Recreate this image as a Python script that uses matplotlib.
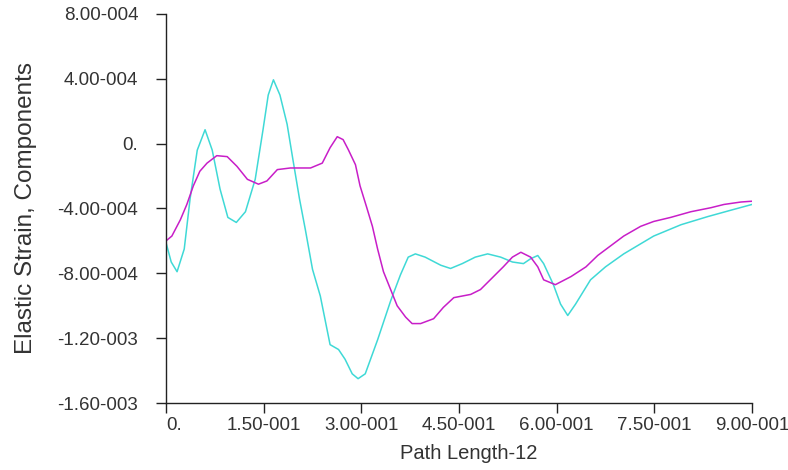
import numpy as np
import matplotlib
matplotlib.use("Agg")
import matplotlib.pyplot as plt

# values (strain in units of 1e-4)
x_cyan = [0.000, 0.008, 0.017, 0.028, 0.037, 0.048, 0.060, 0.071, 0.083, 0.095,
          0.108, 0.122, 0.137, 0.149, 0.157, 0.165, 0.175, 0.186, 0.195, 0.205,
          0.214, 0.225, 0.237, 0.252, 0.265, 0.275, 0.286, 0.295, 0.306, 0.325,
          0.345, 0.360, 0.372, 0.383, 0.398, 0.422, 0.437, 0.455, 0.475, 0.494,
          0.514, 0.532, 0.549, 0.560, 0.571, 0.580, 0.595, 0.606, 0.617, 0.629,
          0.652, 0.675, 0.703, 0.749, 0.791, 0.832, 0.868, 0.900]
y_cyan = [-6.1, -7.3, -7.9, -6.5, -3.4, -0.4, 0.86, -0.4, -2.8, -4.55,
          -4.86, -4.2, -2.2, 0.86, 3.0, 3.94, 3.0, 1.2, -1.0, -3.4,
          -5.3, -7.75, -9.4, -12.4, -12.7, -13.3, -14.2, -14.5, -14.2, -12.1,
          -9.7, -8.1, -7.0, -6.8, -7.0, -7.5, -7.7, -7.4, -7.0, -6.8,
          -7.0, -7.3, -7.4, -7.1, -6.9, -7.4, -8.7, -9.9, -10.6, -9.9,
          -8.4, -7.6, -6.8, -5.7, -5.0, -4.5, -4.1, -3.75]

x_mag = [0.000, 0.009, 0.022, 0.032, 0.042, 0.052, 0.063, 0.078, 0.094, 0.109,
         0.125, 0.142, 0.155, 0.171, 0.191, 0.222, 0.240, 0.252, 0.263, 0.272,
         0.280, 0.291, 0.298, 0.308, 0.317, 0.325, 0.334, 0.345, 0.355, 0.368,
         0.378, 0.391, 0.411, 0.426, 0.442, 0.468, 0.483, 0.498, 0.518, 0.532,
         0.545, 0.560, 0.571, 0.580, 0.598, 0.622, 0.645, 0.663, 0.683, 0.703,
         0.729, 0.749, 0.775, 0.806, 0.837, 0.857, 0.883, 0.900]
y_mag = [-6.0, -5.7, -4.7, -3.75, -2.6, -1.7, -1.2, -0.74, -0.8, -1.4,
         -2.2, -2.5, -2.3, -1.6, -1.5, -1.5, -1.2, -0.25, 0.43, 0.25,
         -0.37, -1.3, -2.6, -3.9, -5.1, -6.5, -7.9, -9.0, -10.0, -10.7,
         -11.1, -11.1, -10.8, -10.1, -9.5, -9.3, -9.0, -8.4, -7.6, -7.0,
         -6.7, -7.0, -7.6, -8.4, -8.7, -8.2, -7.6, -6.9, -6.3, -5.7,
         -5.1, -4.8, -4.55, -4.2, -3.95, -3.75, -3.6, -3.55]

x_ticks = [0.0, 0.15, 0.30, 0.45, 0.60, 0.75, 0.90]
x_labels = ["0.", "1.50-001", "3.00-001", "4.50-001", "6.00-001", "7.50-001", "9.00-001"]
y_ticks = [8e-4, 4e-4, 0.0, -4e-4, -8e-4, -1.2e-3, -1.6e-3]
y_labels = ["8.00-004", "4.00-004", "0.", "-4.00-004", "-8.00-004", "-1.20-003", "-1.60-003"]

plt.rcParams['font.family'] = ['Liberation Sans', 'DejaVu Sans']

fig = plt.figure(figsize=(7.88, 4.70), dpi=100)
ax = fig.add_axes([166 / 788, 67 / 470, 586 / 788, 389 / 470])

ax.plot(x_cyan, np.array(y_cyan) * 1e-4, color='#3fd9d6', lw=1.1)
ax.plot(x_mag, np.array(y_mag) * 1e-4, color='#c81ec8', lw=1.1)

ax.set_xlim(0, 0.9)
ax.set_ylim(-1.6e-3, 8e-4)
ax.set_xticks(x_ticks)
ax.set_xticklabels(x_labels)
ax.set_yticks(y_ticks)
ax.set_yticklabels(y_labels)
ax.get_xticklabels()[0].set_ha('left')

for s in ['top', 'right']:
    ax.spines[s].set_visible(False)
for s in ['left', 'bottom']:
    ax.spines[s].set_color('#222222')
    ax.spines[s].set_linewidth(1.0)

ax.tick_params(axis='both', direction='out', length=7, width=1.0, color='#222222',
               labelsize=13.5, labelcolor='#333333')
ax.tick_params(axis='x', pad=3)
ax.tick_params(axis='y', pad=13)

ax.set_xlabel('Path Length-12', fontsize=14.5, color='#333333')
ax.set_ylabel('Elastic Strain, Components', fontsize=17.5, color='#333333')
ax.xaxis.set_label_coords(0.517, -0.106)
ax.yaxis.set_label_coords(-0.220, 0.5)

fig.savefig('out.png', dpi=100)
